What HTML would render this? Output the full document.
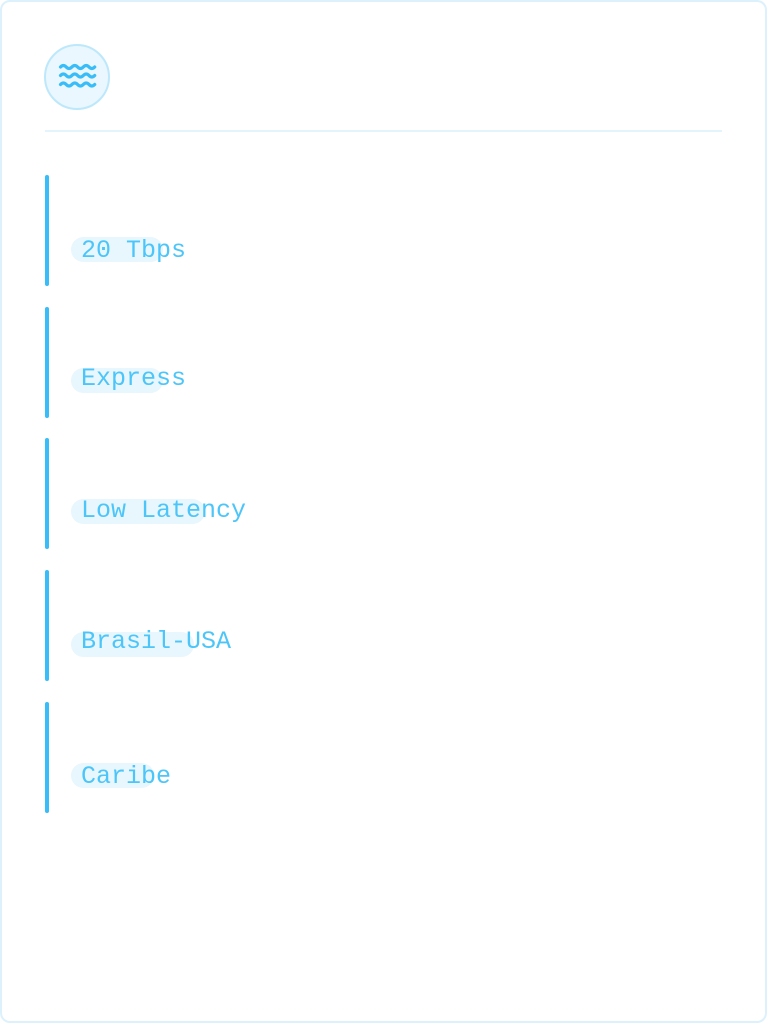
<!DOCTYPE html>
<html><head><meta charset="utf-8"><style>
html,body{margin:0;padding:0;background:#fff;}
body{width:767px;height:1024px;position:relative;overflow:hidden;font-family:"Liberation Mono",monospace;}
.card{position:absolute;left:0;top:0;width:763px;height:1019px;border:2px solid #dcf1fc;border-radius:10px;background:#fff;}
.icon{position:absolute;left:44px;top:44px;width:62px;height:62px;border:2px solid #bde8fb;border-radius:50%;background:#eaf7fe;}
.div{position:absolute;left:45px;top:130px;width:677px;height:2px;background:#e3f4fd;}
.bar{position:absolute;left:45px;width:4px;height:111px;border-radius:2px;background:#38bdf8;}
.pill{position:absolute;left:71px;height:25px;border-radius:13px;background:#e8f6fd;}
.t{position:absolute;left:81px;font-size:25px;line-height:25px;color:#4cc5f9;white-space:pre;}
</style></head><body>
<div class="card"></div>
<div class="icon"></div>
<svg style="position:absolute;left:0;top:0" width="120" height="120">
<g fill="none" stroke="#38bdf8" stroke-width="3.2" stroke-linecap="round">
<path d="M60.5 67 q2.9 -3 5.7 0 t5.7 0 t5.7 0 t5.7 0 t5.7 0 t5.7 0"/>
<path d="M60.5 75.5 q2.9 -3 5.7 0 t5.7 0 t5.7 0 t5.7 0 t5.7 0 t5.7 0"/>
<path d="M60.5 84.5 q2.9 -3 5.7 0 t5.7 0 t5.7 0 t5.7 0 t5.7 0 t5.7 0"/>
</g></svg>
<div class="div"></div>

<div class="bar" style="top:175px"></div>
<div class="pill" style="top:237px;width:92px"></div>
<div class="t" style="top:238px">20 Tbps</div>

<div class="bar" style="top:307px"></div>
<div class="pill" style="top:368px;width:92px"></div>
<div class="t" style="top:366px">Express</div>

<div class="bar" style="top:438px"></div>
<div class="pill" style="top:499px;width:134px"></div>
<div class="t" style="top:498px">Low Latency</div>

<div class="bar" style="top:570px"></div>
<div class="pill" style="top:632px;width:123px"></div>
<div class="t" style="top:629px">Brasil-USA</div>

<div class="bar" style="top:702px"></div>
<div class="pill" style="top:763px;width:83px"></div>
<div class="t" style="top:764px">Caribe</div>
</body></html>
